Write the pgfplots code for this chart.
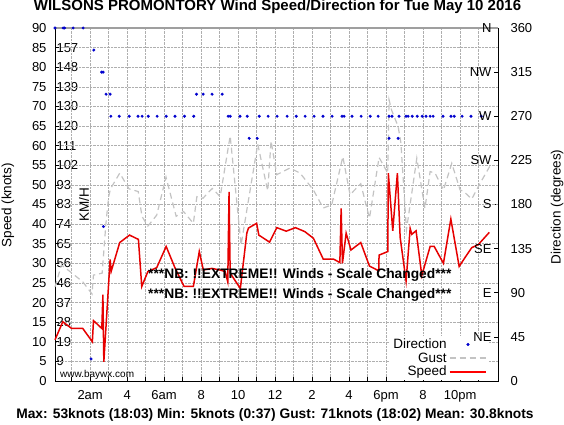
\documentclass[border=0pt]{standalone}
\usepackage{fontspec}
\setmainfont{Liberation Sans}
\usepackage{pgfplots}
\pgfplotsset{compat=1.18}
\definecolor{spd}{RGB}{230,0,0}
\definecolor{gst}{RGB}{195,195,195}
\definecolor{dirc}{RGB}{0,0,205}
\definecolor{gridc}{RGB}{175,175,175}
\pgfplotsset{
  myframe/.style={at={(55bp,43bp)}, anchor=south west, scale only axis,
    width=443bp, height=353bp, xmin=0.1, xmax=24.05,
    ticklabel style={font=\fontsize{13bp}{15bp}\selectfont},
    /pgf/number format/assume math mode=true}
}
\begin{document}
\begin{tikzpicture}[x=1bp,y=1bp]
\path[use as bounding box] (0,0) rectangle (564,424);
% KM/H labels
\begin{axis}[myframe, ymin=0, ymax=90, hide x axis, axis line style={draw=none},
  ytick={5,10,...,85}, yticklabels={9,19,28,37,46,56,65,74,83,93,102,111,120,130,139,148,157},
  ytick pos=left, tick align=inside, major tick length=0pt,
  yticklabel style={anchor=west, xshift=-2bp}]
\end{axis}
% degrees on right
\begin{axis}[myframe, ymin=0, ymax=360, hide x axis, axis y line*=right,
  axis line style={black, line width=0.6bp},
  ytick={0,45,...,360}, tick align=inside, major tick length=4bp,
  tick style={black, line width=0.6bp},
  yticklabel style={xshift=9bp}]
\end{axis}
% main
\begin{axis}[myframe, ymin=0, ymax=90, clip=false,
  ytick={0,5,...,90}, ytick pos=left,
  xtick={2,4,...,22}, minor xtick={1,3,...,23}, xtick pos=bottom,
  xticklabels={2am,4,6am,8,10,12,2,4,6pm,8,10pm},
  tick align=inside, major tick length=4bp, minor tick length=4bp,
  tick style={black, line width=0.6bp},
  grid=both, major grid style={gridc, densely dotted, line width=0.5bp},
  minor grid style={gridc, densely dotted, line width=0.5bp},
  axis line style={black, line width=0.6bp},
  yticklabel style={xshift=-5bp}, xticklabel style={yshift=-6bp},
  legend image code/.code={\draw[mark repeat=2,mark phase=2,#1] plot coordinates {(0cm,0cm) (0.65cm,0cm) (1.3cm,0cm)};},
  legend style={at={(rel axis cs:1,0)}, anchor=south east, xshift=-9.5bp, yshift=0.5bp,
    fill=white, draw=none, font=\fontsize{13.5bp}{15bp}\selectfont,
    row sep=-1.5bp, inner sep=1bp},
  legend cell align=right, legend plot pos=right]
\addlegendimage{only marks, mark=*, mark size=1.3bp, mark options={draw=dirc, fill=dirc}}
\addlegendentry{Direction}
\addlegendimage{color=gst, line width=1.2bp, dash pattern=on 6bp off 4bp}
\addlegendentry{Gust}
\addlegendimage{legend image code/.code={\draw[draw=red, line width=1.8bp] (0cm,0cm) -- (1.3cm,0cm);}}
\addlegendentry{Speed}
\addplot[forget plot, only marks, mark=*, mark size=1.3bp, mark options={draw=dirc, fill=dirc}] coordinates {
(0.1,90)(0.54,90)(0.62,90)(1.08,90)(1.62,90)
(2.05,5.625)(2.2,84.375)(2.62,78.75)(2.7,78.75)(2.72,39.375)
(2.86,73.125)(3.08,73.125)(3.12,67.5)
(3.57,67.5)(4.11,67.5)(4.59,67.5)(4.81,67.5)(5.14,67.5)(5.62,67.5)(6.11,67.5)(6.59,67.5)(7.1,67.5)(7.6,67.5)
(7.75,73.125)(8.11,73.125)(8.59,73.125)(9.14,73.125)
(9.46,67.5)(9.57,67.5)(10.1,67.5)(10.49,67.5)(11.14,67.5)(11.62,67.5)(12.11,67.5)(12.65,67.5)(13.14,67.5)(13.62,67.5)
(14.11,67.5)(14.59,67.5)(15.08,67.5)(15.62,67.5)(15.73,67.5)(16.16,67.5)(16.65,67.5)(17.14,67.5)(17.57,67.5)
(18.16,67.5)(18.32,67.5)(18.7,67.5)(19.08,67.5)(19.19,67.5)(19.41,67.5)(19.68,67.5)(19.95,67.5)(20.16,67.5)
(20.38,67.5)(20.54,67.5)(21.08,67.5)(21.51,67.5)(21.68,67.5)(22.11,67.5)(22.59,67.5)(23.14,67.5)
(10.6,61.875)(11.03,61.875)(18.16,61.875)(18.65,61.875)
};
\addplot[forget plot, color=gst, line width=1.2bp, dash pattern=on 6bp off 4bp] coordinates {
(0.1,24)(0.45,29.6)(1.1,27.2)(1.6,25.3)(2.1,22.2)(2.18,27)(2.65,27.5)(2.85,40)(3.0,47)(3.1,49)
(3.6,53)(4.1,49)(4.6,48.3)(4.8,42)(5.12,39.5)(5.6,42.3)(6.1,52)(6.65,42)(7.05,43.2)(7.58,40.2)
(7.77,47)(8.1,46.6)(8.6,49.1)(9.03,47)(9.57,62.5)(10.16,34.7)(11.06,60.4)(11.6,48.5)(11.78,61.2)
(12.09,52.6)(12.8,54.3)(13.35,53)(14.07,48.7)(14.6,44.1)(15.06,44.9)(15.66,57.2)(16.05,47.5)(16.63,50.3)
(17.1,41.5)(17.62,57)(18.09,53)(18.16,71.7)(18.3,69)(18.65,64.9)(18.8,60.7)(19.1,38.5)(19.66,56.8)
(20.1,44)(20.38,53.4)(20.65,53)(21.1,48.7)(21.55,55.5)(22.0,48.7)(22.2,48.3)(22.63,46.4)(23.08,50.4)(23.6,54.7)
};
\addplot[forget plot, color=spd, line width=1.5bp] coordinates {
(0.1,10.5)(0.52,15.1)(1.0,13.4)(1.6,13.4)(2.12,10)(2.18,15.4)(2.63,13.4)(2.69,22)(2.74,4.9)
(3.08,31)(3.14,28)(3.6,35.3)(4.13,37.2)(4.61,36.1)(4.79,24.1)(5.12,27.9)(5.6,28.9)(6.11,34.3)
(6.6,28.7)(7.08,24.1)(7.58,24.1)(7.9,33)(8.12,28.3)(8.58,28.7)(9.03,28.3)(9.3,27.9)(9.44,25.3)(9.51,48.2)
(9.57,27.5)(10.12,23.6)(10.47,37.7)(10.56,39)(11.0,40.2)(11.12,37.2)(11.7,35.4)(12.09,39.1)(12.6,38.2)
(13.1,39.1)(13.6,38.1)(14.07,36.4)(14.6,31.1)(15.15,31.1)(15.5,30.2)(15.57,44)(15.64,30)(15.84,37.7)
(16.1,33.4)(16.63,35.3)(17.1,29.3)(17.6,28.1)(17.62,32.1)(18.09,33)(18.12,53)(18.36,38.3)(18.61,53)
(18.76,36.6)(19.08,25.5)(19.3,38.9)(19.39,37.4)(19.62,38.3)(19.93,26.9)(20.38,34.3)(20.6,34.3)
(21.1,30)(21.5,41.3)(21.95,29.2)(22.27,31.5)(22.63,34)(22.99,34.8)(23.58,37.9)
};
\draw[gray!75, line width=1.6bp] (rel axis cs:0,1) -- (rel axis cs:1,1);
\end{axis}
% compass (drawn last so the legend box does not hide NE)
\begin{axis}[myframe, ymin=0, ymax=360, hide x axis, axis y line*=right,
  axis line style={draw=none},
  ytick={45,90,...,360}, yticklabels={NE,E,SE,S,SW,W,NW,N}, major tick length=0pt,
  yticklabel style={anchor=east, xshift=-3bp}]
\end{axis}
% texts
\node[font=\bfseries\fontsize{15bp}{17bp}\selectfont] at (277.5,417) {WILSONS PROMONTORY Wind Speed/Direction for Tue May 10 2016};
\node[font=\bfseries\fontsize{13.8bp}{15bp}\selectfont] at (275,9) {Max: 53knots (18:03) Min: 5knots (0:37) Gust: 71knots (18:02) Mean: 30.8knots};
\node[rotate=90, font=\fontsize{13.5bp}{15bp}\selectfont] at (8,219) {Speed (knots)};
\node[rotate=90, font=\fontsize{13.5bp}{15bp}\selectfont] at (557,217) {Direction (degrees)};
\node[rotate=90, font=\fontsize{13.5bp}{15bp}\selectfont] at (84,219) {KM/H};
\node[anchor=west, inner sep=0pt, font=\bfseries\fontsize{13.8bp}{15bp}\selectfont] at (148,149) {***NB: !!EXTREME!! Winds - Scale Changed***};
\node[anchor=west, inner sep=0pt, font=\bfseries\fontsize{13.8bp}{15bp}\selectfont] at (148,129) {***NB: !!EXTREME!! Winds - Scale Changed***};
\node[anchor=west, inner sep=0pt, font=\fontsize{10bp}{11bp}\selectfont] at (60,49) {www.baywx.com};
\end{tikzpicture}
\end{document}
